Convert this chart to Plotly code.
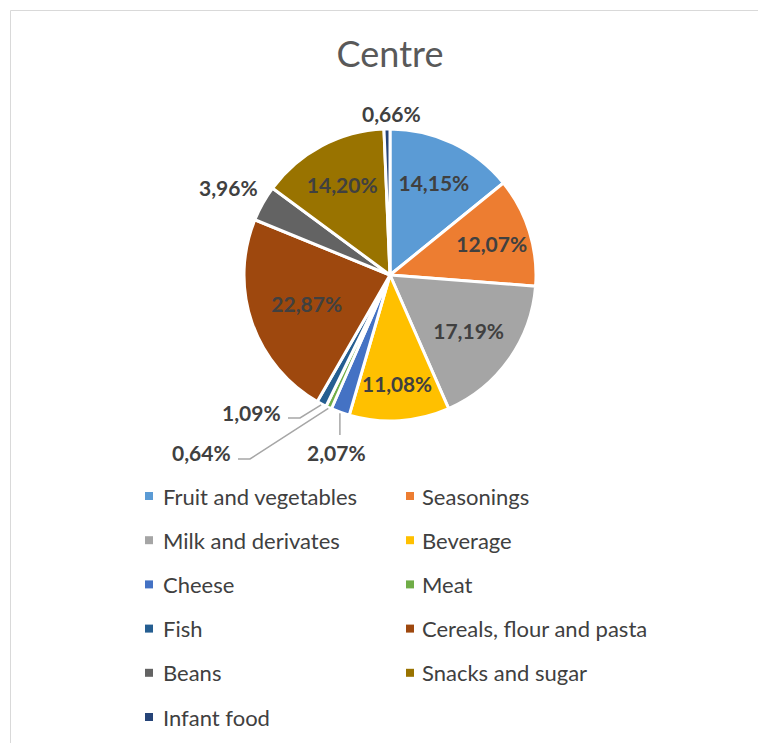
import math
import plotly.graph_objects as go

# Food-group shares for the Centre region (percent)
labels = [
    "Fruit and vegetables", "Seasonings", "Milk and derivates", "Beverage",
    "Cheese", "Meat", "Fish", "Cereals, flour and pasta", "Beans",
    "Snacks and sugar", "Infant food",
]
values = [14.15, 12.07, 17.19, 11.08, 2.07, 0.64, 1.09, 22.87, 3.96, 14.20, 0.66]
colors = [
    "#5B9BD5", "#ED7D31", "#A5A5A5", "#FFC000", "#4472C4", "#70AD47",
    "#255E91", "#9E480E", "#636363", "#997300", "#264478",
]

W, H = 758, 743
CX, CY, R = 390, 275, 146          # pie centre and radius in pixels
FONT = "Lato"
LABEL_COLOR = "#404040"
LABEL_SIZE = 21


def px(x, y):
    """Pixel position -> paper coordinates."""
    return x / W, 1 - y / H


def fmt(v):
    return f"{v:.2f}".replace(".", ",") + "%"


# slices too thin for an inside label get an outside label instead
INSIDE_MIN = 5
texts = [fmt(v) if v >= INSIDE_MIN else "" for v in values]

fig = go.Figure(
    go.Pie(
        labels=labels,
        values=values,
        text=texts,
        textinfo="text",
        textposition="inside",
        insidetextorientation="horizontal",
        insidetextfont=dict(family=FONT, size=LABEL_SIZE, color=LABEL_COLOR, weight="bold"),
        sort=False,
        direction="clockwise",
        rotation=0,
        marker=dict(colors=colors, line=dict(color="white", width=3)),
        showlegend=False,
        hoverinfo="label+percent",
        domain=dict(
            x=[(CX - R) / W, (CX + R) / W],
            y=[1 - (CY + R) / H, 1 - (CY - R) / H],
        ),
    )
)

# angle (clockwise from 12 o'clock) of each slice's middle
total = sum(values)
mids = []
acc = 0.0
for v in values:
    mids.append((acc + v / 2) / total * 2 * math.pi)
    acc += v


def edge_point(i, rr):
    a = mids[i]
    return CX + rr * math.sin(a), CY - rr * math.cos(a)


# outside labels: text position (px), anchor side and optional leader path
outside = {
    "Infant food": dict(at=(391, 113), xanchor="center", leader=None),
    "Beans": dict(at=(228, 187), xanchor="center", leader=None),
    "Cheese": dict(at=(336, 452), xanchor="center", leader=[("edge",), (None, 435)]),
    "Meat": dict(at=(233, 452), xanchor="right", leader=[("edge",), (250, 459), (238, 459)]),
    "Fish": dict(at=(283, 412), xanchor="right", leader=[("edge",), (300, 418), (288, 418)]),
}

annotations = []
shapes = []

for i, lab in enumerate(labels):
    if lab not in outside:
        continue
    cfg = outside[lab]
    tx, ty = px(*cfg["at"])
    annotations.append(dict(
        x=tx, y=ty, xref="paper", yref="paper", text=fmt(values[i]),
        showarrow=False, xanchor=cfg["xanchor"], yanchor="middle",
        font=dict(family=FONT, size=LABEL_SIZE, color=LABEL_COLOR, weight="bold"),
    ))
    if cfg["leader"]:
        ex, ey = edge_point(i, R + 1)
        pts = []
        for p in cfg["leader"]:
            if p == ("edge",):
                pts.append((ex, ey))
            elif p[0] is None:
                pts.append((ex, p[1]))
            else:
                pts.append(p)
        path = " ".join(
            ("M" if k == 0 else "L") + f"{px(x, y)[0]:.5f},{px(x, y)[1]:.5f}"
            for k, (x, y) in enumerate(pts)
        )
        shapes.append(dict(type="path", xref="paper", yref="paper", path=path,
                           line=dict(color="#A6A6A6", width=1.5)))

# legend: two columns of coloured squares with names
col_marker_x = [149, 410]
col_text_x = [161, 420]
row_y0, row_step = 496, 44.2
sq = 4
for i, (lab, col) in enumerate(zip(labels, colors)):
    c, r = i % 2, i // 2
    yy = row_y0 + r * row_step
    mx = col_marker_x[c]
    x0, y0 = px(mx - sq, yy - sq)
    x1, y1 = px(mx + sq, yy + sq)
    shapes.append(dict(type="rect", xref="paper", yref="paper",
                       x0=x0, x1=x1, y0=y1, y1=y0,
                       fillcolor=col, line=dict(width=0)))
    lx, ly = px(col_text_x[c], yy)
    annotations.append(dict(
        x=lx, y=ly, xref="paper", yref="paper", text=lab, showarrow=False,
        xanchor="left", yanchor="middle",
        font=dict(family=FONT, size=22, color=LABEL_COLOR),
    ))

# chart-area border
bx0, by1 = px(10.5, 10.5)
shapes.append(dict(type="rect", xref="paper", yref="paper",
                   x0=bx0, x1=1.2, y0=-0.2, y1=by1,
                   line=dict(color="#D9D9D9", width=1), fillcolor="rgba(0,0,0,0)"))

tx, ty = px(390, 54)
fig.update_layout(
    width=W, height=H,
    margin=dict(l=0, r=0, t=0, b=0),
    paper_bgcolor="white",
    plot_bgcolor="white",
    title=dict(text="Centre", x=tx, y=ty, xanchor="center", yanchor="middle",
               xref="paper", yref="paper",
               font=dict(family=FONT, size=36, color="#595959")),
    annotations=annotations,
    shapes=shapes,
)

fig.write_html("out.html")
